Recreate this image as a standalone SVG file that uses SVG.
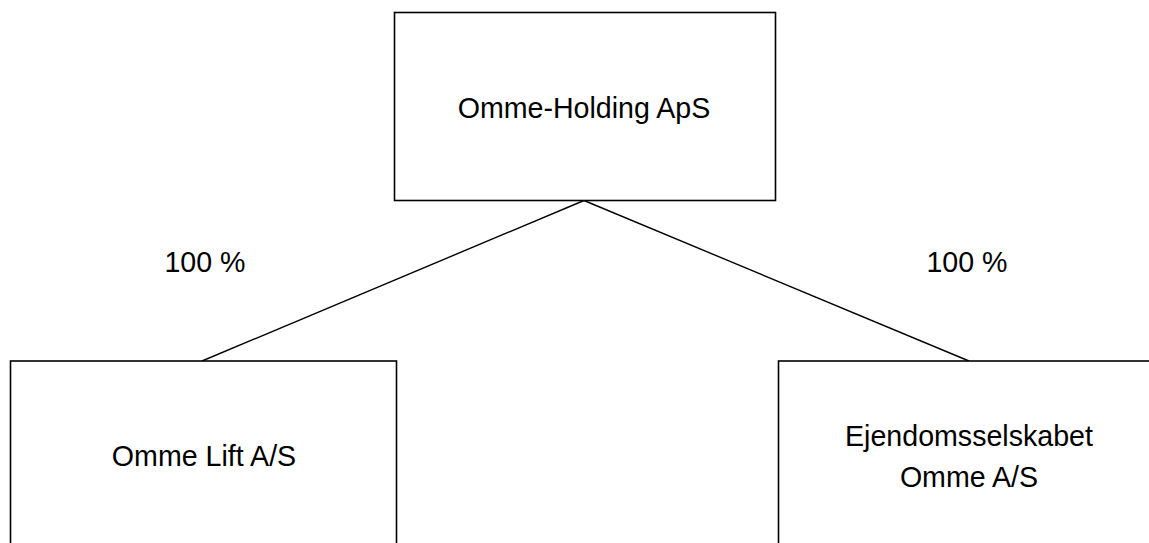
<svg xmlns="http://www.w3.org/2000/svg" width="1149" height="543" viewBox="0 0 1149 543">
<style>
.box{fill:#fff;stroke:#000;stroke-width:1.6}
.ln{stroke:#000;stroke-width:1.4;fill:none}
text{font-family:"Liberation Sans",Arial,sans-serif;font-size:28.6px;fill:#000;text-anchor:middle}
</style>
<rect width="1149" height="543" fill="#fff"/>
<g id="connectors">
<line class="ln" x1="584" y1="200.5" x2="202" y2="361"/>
<line class="ln" x1="584" y1="200.5" x2="969" y2="361"/>
</g>
<g id="node-holding">
<rect class="box" x="394.5" y="12.5" width="381" height="188"/>
<text x="584" y="118">Omme-Holding ApS</text>
</g>
<g id="label-left"><text x="205" y="272">100 %</text></g>
<g id="label-right"><text x="967" y="272">100 %</text></g>
<g id="node-lift">
<rect class="box" x="10.5" y="361" width="386" height="200"/>
<text x="204" y="466">Omme Lift A/S</text>
</g>
<g id="node-ejendom">
<rect class="box" x="778.5" y="361" width="400" height="200"/>
<text x="969" y="446">Ejendomsselskabet</text>
<text x="969" y="487">Omme A/S</text>
</g>
</svg>
